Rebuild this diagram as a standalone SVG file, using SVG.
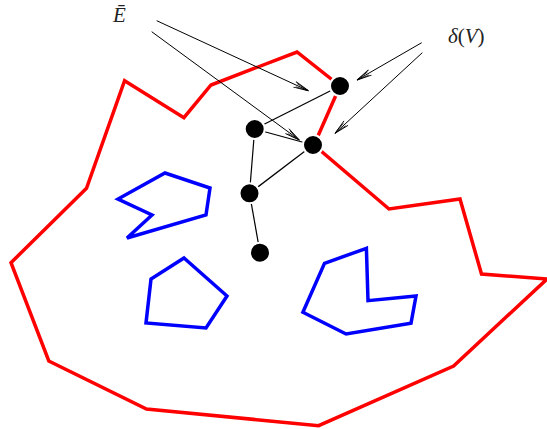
<svg xmlns="http://www.w3.org/2000/svg" width="547" height="429" viewBox="0 0 547 429">
<defs>
<style>
.red{fill:none;stroke:#ff0000;stroke-width:3.5;stroke-linejoin:miter}
.blue{fill:none;stroke:#0000ff;stroke-width:3.5;stroke-linejoin:miter}
.edge{stroke:#000;stroke-width:1.2;fill:none}
.arr{stroke:#000;stroke-width:1;fill:none;marker-end:url(#ah)}
.node{fill:#000;stroke:#fff;stroke-width:2}
.lbl{font-family:"Liberation Serif","DejaVu Serif",serif;font-size:21px;fill:#222}
</style>
<marker id="ah" markerUnits="userSpaceOnUse" markerWidth="18" markerHeight="8" refX="15" refY="3" orient="auto" overflow="visible">
<path d="M0,0 L15,3 L0,6" fill="none" stroke="#000" stroke-width="0.9"/>
<path d="M2,1.3 L15,3 L2,4.7" fill="none" stroke="#000" stroke-width="0.7"/>
</marker>
</defs>
<g id="outer-boundary">
<polygon class="red" points="124.6,80.7 183.9,117.7 211,85 297,52 340,86 314,145 389,209 460,199 481.5,274 547,279 453.6,366 318.6,425.7 146.5,409 48.8,361 11,262.7 86.5,188.3"/>
</g>
<g id="hole-1"><polygon class="blue" points="165,173 210,188 206,215 127,238 152,215 118,199"/></g>
<g id="hole-2"><polygon class="blue" points="184,258 227,296 206,328 146,323 151,279"/></g>
<g id="hole-3"><polygon class="blue" points="366.4,248.3 324.5,263.3 302.9,312.3 346.1,334 411,323.3 416,296 368,300.7"/></g>
<g id="connectors">
<line class="edge" x1="340" y1="86" x2="254.7" y2="129"/>
<line class="edge" x1="254.7" y1="129" x2="313" y2="145"/>
<line class="edge" x1="254.7" y1="129" x2="249.5" y2="193.3"/>
<line class="edge" x1="249.5" y1="193.3" x2="313" y2="145"/>
<line class="edge" x1="249.5" y1="193.3" x2="260" y2="252.7"/>
<line class="arr" x1="156.7" y1="20.7" x2="308.3" y2="90.7"/>
<line class="arr" x1="151.7" y1="31.7" x2="299.3" y2="140"/>
<line class="arr" x1="421.7" y1="42.7" x2="357" y2="80"/>
<line class="arr" x1="422.3" y1="52.7" x2="335" y2="133.3"/>
</g>
<g id="node-a"><circle class="node" cx="340" cy="86" r="10"/></g>
<g id="node-b"><circle class="node" cx="254.7" cy="129" r="10"/></g>
<g id="node-c"><circle class="node" cx="313" cy="145" r="10"/></g>
<g id="node-d"><circle class="node" cx="249.5" cy="193.3" r="10"/></g>
<g id="node-e"><circle class="node" cx="260" cy="252.7" r="10"/></g>
<g id="label-Ebar"><text class="lbl" x="113" y="22" font-style="italic">Ē</text></g>
<g id="label-deltaV"><text class="lbl" x="448" y="43"><tspan font-style="italic">δ</tspan>(<tspan font-style="italic">V</tspan>)</text></g>
</svg>
